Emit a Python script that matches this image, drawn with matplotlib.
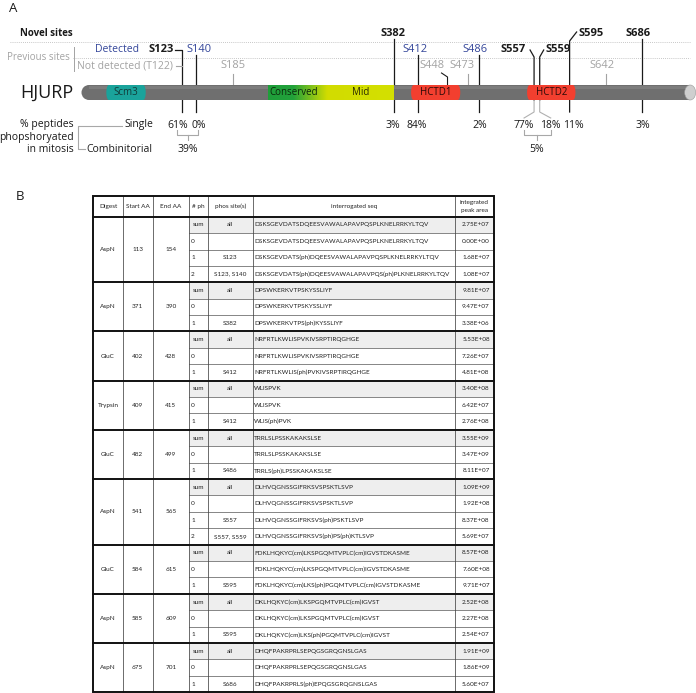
import matplotlib
matplotlib.use("Agg")
import matplotlib.pyplot as plt
import numpy as np
from matplotlib.patches import Rectangle, Ellipse
from matplotlib.colors import LinearSegmentedColormap

# ---------------- data: panel A ----------------
protein_name = "HJURP"
protein_len = 748
domain_names = ["Scm3", "HCTD1", "HCTD2"]
domain_starts = [31, 404, 546]
domain_ends = [78, 463, 604]
conserved_region = (228, 292)
mid_region = (292, 382)

novel_sites = ["S123", "S382", "S557", "S559", "S595", "S686"]
detected_prev_sites = ["S140", "S412", "S486"]
undetected_prev_sites = ["S185", "S448", "S473", "S642"]
pct_sites = ["S123", "S140", "S382", "S412", "S486", "S557", "S559", "S595", "S686"]
pct_single = [61, 0, 3, 84, 2, 77, 18, 11, 3]
combi_pairs = [("S123", "S140"), ("S557", "S559")]
combi_pct = [39, 5]

# ---------------- data: panel B (table) ----------------
header = ["Digest", "Start AA", "End AA", "# ph", "phos site(s)",
          "interrogated seq", "integrated\npeak area"]
digests = ["AspN", "AspN", "GluC", "Trypsin", "GluC", "AspN", "GluC", "AspN", "AspN"]
start_aa = [113, 371, 402, 409, 482, 541, 584, 585, 675]
end_aa = [154, 390, 428, 415, 499, 565, 615, 609, 701]
n_ph = [["sum", "0", "1", "2"], ["sum", "0", "1"], ["sum", "0", "1"], ["sum", "0", "1"],
        ["sum", "0", "1"], ["sum", "0", "1", "2"], ["sum", "0", "1"], ["sum", "0", "1"],
        ["sum", "0", "1"]]
phos_sites = [["all", "", "S123", "S123, S140"], ["all", "", "S382"], ["all", "", "S412"],
              ["all", "", "S412"], ["all", "", "S486"], ["all", "", "S557", "S557, S559"],
              ["all", "", "S595"], ["all", "", "S595"], ["all", "", "S686"]]
sequences = [
    ["DSKSGEVDATSDQEESVAWALAPAVPQSPLKNELRRKYLTQV",
     "DSKSGEVDATSDQEESVAWALAPAVPQSPLKNELRRKYLTQV",
     "DSKSGEVDATS(ph)DQEESVAWALAPAVPQSPLKNELRRKYLTQV",
     "DSKSGEVDATS(ph)DQEESVAWALAPAVPQS(ph)PLKNELRRKYLTQV"],
    ["DPSWKERKVTPSKYSSLIYF", "DPSWKERKVTPSKYSSLIYF", "DPSWKERKVTPS(ph)KYSSLIYF"],
    ["NRFRTLKWLISPVKIVSRPTIRQGHGE", "NRFRTLKWLISPVKIVSRPTIRQGHGE",
     "NRFRTLKWLIS(ph)PVKIVSRPTIRQGHGE"],
    ["WLISPVK", "WLISPVK", "WLIS(ph)PVK"],
    ["TRRLSLPSSKAKAKSLSE", "TRRLSLPSSKAKAKSLSE", "TRRLS(ph)LPSSKAKAKSLSE"],
    ["DLHVQGNSSGIFRKSVSPSKTLSVP", "DLHVQGNSSGIFRKSVSPSKTLSVP",
     "DLHVQGNSSGIFRKSVS(ph)PSKTLSVP", "DLHVQGNSSGIFRKSVS(ph)PS(ph)KTLSVP"],
    ["FDKLHQKYC(cm)LKSPGQMTVPLC(cm)IGVSTDKASME", "FDKLHQKYC(cm)LKSPGQMTVPLC(cm)IGVSTDKASME",
     "FDKLHQKYC(cm)LKS(ph)PGQMTVPLC(cm)IGVSTDKASME"],
    ["DKLHQKYC(cm)LKSPGQMTVPLC(cm)IGVST", "DKLHQKYC(cm)LKSPGQMTVPLC(cm)IGVST",
     "DKLHQKYC(cm)LKS(ph)PGQMTVPLC(cm)IGVST"],
    ["DHQFPAKRPRLSEPQGSGRQGNSLGAS", "DHQFPAKRPRLSEPQGSGRQGNSLGAS",
     "DHQFPAKRPRLS(ph)EPQGSGRQGNSLGAS"],
]
peak_areas = [[2.75e7, 0.00e0, 1.68e7, 1.08e7], [9.81e7, 9.47e7, 3.38e6],
              [5.53e8, 7.26e7, 4.81e8], [3.40e8, 6.42e7, 2.76e8],
              [3.55e9, 3.47e9, 8.11e7], [1.09e9, 1.92e8, 8.37e8, 5.69e7],
              [8.57e8, 7.60e8, 9.71e7], [2.52e8, 2.27e8, 2.54e7],
              [1.91e9, 1.86e9, 5.60e7]]

# ---------------- styling ----------------
W, H = 696, 693
FA = "Open Sans"
FT = "Lato"
BLUE = "#34469a"
GRAY = "#a3a3a3"
DARK = "#1a1a1a"
BAR = "#6f6f6f"
PX0, PXA = 81.5, 0.817          # aa -> pixel scale used for panel A

fig = plt.figure(figsize=(W / 100, H / 100), dpi=100)
axp = fig.add_axes([0, 0, 1, 1])
axp.set_xlim(0, W); axp.set_ylim(H, 0); axp.axis("off")
axA = fig.add_axes([0, 0, 1, 1])
axA.set_xlim(-PX0 / PXA, (W - PX0) / PXA); axA.set_ylim(H, 0); axA.axis("off")
axA.patch.set_visible(False)

def aa(name):
    return int(name[1:])

def dpx(px):  # pixel offset -> aa units
    return px / PXA

# ---------------- panel A ----------------
axp.text(13, 9, "A", fontsize=9.5, family=FA, ha="center", va="center", color=DARK)
axp.text(20, 33, "Novel sites", fontsize=7, family=FA, weight="bold", ha="left", va="center", color=DARK)
axp.plot([10, 690], [41.5, 41.5], color="#b5b5b5", lw=0.6, ls=(0, (1, 1.5)))
axp.plot([73, 690], [58, 58], color="#b5b5b5", lw=0.6, ls=(0, (1, 1.5)))
axp.text(70, 57, "Previous sites", fontsize=7, family=FA, ha="right", va="center", color=GRAY)
axp.plot([73.5, 73.5], [47, 71], color=GRAY, lw=0.7)
axp.text(95, 49, "Detected", fontsize=7.5, family=FA, ha="left", va="center", color=BLUE)
axp.text(77, 66, "Not detected (T122)", fontsize=7.5, family=FA, ha="left", va="center", color=GRAY)

ybar0, ybar1 = 85, 100
ymid = (ybar0 + ybar1) / 2
r = dpx(7.5)
axA.add_patch(Rectangle((r, ybar0), protein_len - 3 - r, ybar1 - ybar0, color=BAR, lw=0, zorder=2))
axA.add_patch(Ellipse((r, ymid), 2 * r, ybar1 - ybar0, color=BAR, lw=0, zorder=2))
axA.add_patch(Rectangle((r, ybar0 + 1), protein_len - 3 - r, 3, color="#7d7d7d", lw=0, zorder=2))
axA.add_patch(Ellipse((protein_len - 3, ymid), dpx(11), ybar1 - ybar0, facecolor="#cfcfcf",
                      edgecolor="#9a9a9a", lw=0.4, zorder=3))

dom_colors = ["#1aa39b", "#f23f2f", "#f23f2f"]
dom_text = ["#123c3a", "#2a0a08", "#2a0a08"]
for name, s, e, c, tc in zip(domain_names, domain_starts, domain_ends, dom_colors, dom_text):
    axA.add_patch(Rectangle((s + dpx(2), ybar0), e - s - dpx(4), ybar1 - ybar0, color=c, lw=0, zorder=4))
    axA.add_patch(Ellipse((s + dpx(2), ymid), dpx(5), ybar1 - ybar0, color=c, lw=0, zorder=4))
    axA.add_patch(Ellipse((e - dpx(2), ymid), dpx(5), ybar1 - ybar0, color=c, lw=0, zorder=4))
    axA.text((s + e) / 2, ymid, name, fontsize=7, family=FA, ha="center", va="center", color=tc, zorder=6)

cmap = LinearSegmentedColormap.from_list(
    "cm", [(0, "#1f9e3a"), (0.2, "#22a23a"), (0.47, "#d2dc00"), (1, "#d4e000")])
axA.imshow(np.linspace(0, 1, 256)[None, :], cmap=cmap, aspect="auto",
           extent=(conserved_region[0], mid_region[1], ybar1, ybar0), zorder=4)
axA.text(sum(conserved_region) / 2, ymid, "Conserved", fontsize=7, family=FA, ha="center",
         va="center", color="#0b2a0b", zorder=6)
axA.text(sum(mid_region) / 2 + dpx(4), ymid, "Mid", fontsize=7, family=FA, ha="center",
         va="center", color="#2a2a00", zorder=6)
axA.set_xlim(-PX0 / PXA, (W - PX0) / PXA); axA.set_ylim(H, 0)

axp.text(73, ymid, protein_name, fontsize=13, family=FA, ha="right", va="center", color=DARK)

# site label layout: (label y, ha, label dx px, line spread px)
layout = {
    "S123": (49, "right", -8, 0), "S140": (49, "center", 3, 0),
    "S382": (33, "center", -1, 0), "S412": (49, "center", -3, 0),
    "S486": (49, "center", -4, 0), "S557": (50, "right", -8, -2.5),
    "S559": (50, "left", 6, 1.5), "S595": (33, "left", 9, 2),
    "S686": (33, "center", -3.5, 0),
    "S185": (66, "center", 0, 0), "S448": (66, "center", -15, 0),
    "S473": (66, "center", -5.5, 0), "S642": (66, "center", -3.5, 0),
}
site_line_x = {}
for group, color, weight in [(novel_sites, DARK, "bold"), (detected_prev_sites, BLUE, "normal"),
                             (undetected_prev_sites, GRAY, "normal")]:
    for s in group:
        ly, ha, ldx, spread = layout[s]
        x = aa(s) + dpx(spread)
        site_line_x[s] = x
        axA.text(x + dpx(ldx), ly, s, fontsize=8, family=FA, weight=weight, ha=ha,
                 va="center", color=color, zorder=6)
        if group is undetected_prev_sites:
            if s == "S448":
                axA.plot([x + dpx(-6), x, x], [73, 77, ybar0], color=DARK, lw=0.8, zorder=1)
            else:
                axA.plot([x, x], [74, ybar0], color=GRAY, lw=0.8, zorder=1)
            continue
        if ha == "right" and s == "S123":
            pts_x, pts_y = [x + dpx(-7), x, x], [49.5, 49.5, 112]
        elif s == "S557":
            pts_x, pts_y = [x + dpx(-4), x, x], [50, 57, 100]
        elif s == "S559":
            pts_x, pts_y = [x + dpx(4), x, x], [50, 57, 100]
        elif s == "S595":
            pts_x, pts_y = [x + dpx(7), x, x], [32, 41, 112]
        else:
            pts_x, pts_y = [x, x], [ly + 6, 112]
        axA.plot(pts_x, pts_y, color=DARK, lw=0.9, zorder=1)

# T122 hook to S123 line
axA.plot([aa("S123") + dpx(-6), aa("S123")], [66, 66], color=GRAY, lw=0.8, zorder=1)

# below-bar lines for S557/S559 (splayed, grey)
splay = {"S557": -10, "S559": 11}
for s, d in splay.items():
    x = site_line_x[s]
    axA.plot([x, x, x + dpx(d)], [100, 112, 118], color="#b0b0b0", lw=0.8, zorder=1)

# single percentages
pct_dx = {"S123": -4.5, "S140": 2.5, "S382": -1, "S412": -1.5, "S486": 1.5,
          "S557": -10, "S559": 11, "S595": 4, "S686": 1}
pct_x = {}
for s, p in zip(pct_sites, pct_single):
    x = site_line_x[s] + dpx(pct_dx[s])
    pct_x[s] = x
    axA.text(x, 125, f"{p}%", fontsize=7.5, family=FA, ha="center", va="center", color=DARK)

# combinatorial brackets
for (a, b), p in zip(combi_pairs, combi_pct):
    xa, xb = pct_x[a], pct_x[b]
    xc = (site_line_x[a] + site_line_x[b]) / 2 if a == "S557" else (xa + xb) / 2
    axA.plot([xa, xa, xb, xb], [130, 135, 135, 130], color="#a8a8a8", lw=0.8)
    axA.plot([xc, xc], [135, 140], color="#a8a8a8", lw=0.8)
    axA.text(xc, 150, f"{p}%", fontsize=7.5, family=FA, ha="center", va="center", color=DARK)

# left labels
for yy, t in zip([125, 137.5, 150], ["% peptides", "phopshoryated", "in mitosis"]):
    axp.text(74, yy, t, fontsize=7.5, family=FA, ha="right", va="center", color=DARK)
axp.plot([122, 78, 78, 85], [126, 126, 149, 149], color="#a8a8a8", lw=0.8)
axp.text(124, 125, "Single", fontsize=7.5, family=FA, ha="left", va="center", color=DARK)
axp.text(86, 150, "Combinitorial", fontsize=7.5, family=FA, ha="left", va="center", color=DARK)

# ---------------- panel B: table ----------------
axp.text(20, 197, "B", fontsize=9.5, family=FA, ha="center", va="center", color=DARK)
cols = [93.3, 122.7, 152.7, 189, 207.7, 253, 454.7, 494.3]
top, hdr_bot, row_h = 196, 216.7, 16.4
TS = 4.6
tc = "#222222"

# header
for i, h in enumerate(header):
    cx = (cols[i] + cols[i + 1]) / 2
    axp.text(cx, (top + hdr_bot) / 2 + 0.3, h, fontsize=TS, family=FT, ha="center", va="center",
             color=tc, linespacing=1.6)

y = hdr_bot
group_lines = [hdr_bot]
for g in range(len(digests)):
    nrows = len(n_ph[g])
    y0 = y
    for k in range(nrows):
        ry0, ry1 = y, y + row_h
        yc = (ry0 + ry1) / 2
        if n_ph[g][k] == "sum":
            axp.add_patch(Rectangle((cols[3], ry0), cols[7] - cols[3], row_h, color="#eeeeee", lw=0, zorder=1))
            axp.text((cols[3] + cols[4]) / 2, yc, n_ph[g][k], fontsize=TS, family=FT, ha="center", va="center", color=tc, zorder=3)
        else:
            axp.text(cols[3] + 2, yc, n_ph[g][k], fontsize=TS, family=FT, ha="left", va="center", color=tc, zorder=3)
        axp.text((cols[4] + cols[5]) / 2, yc, phos_sites[g][k], fontsize=TS, family=FT,
                 ha="center", va="center", color=tc, zorder=3)
        axp.text(cols[5] + 1.2, yc, sequences[g][k], fontsize=TS, family=FT,
                 ha="left", va="center", color=tc, zorder=3)
        axp.text((cols[6] + cols[7]) / 2 + 1.5, yc, f"{peak_areas[g][k]:.2E}", fontsize=TS,
                 family=FT, ha="center", va="center", color=tc, zorder=3)
        if k > 0:
            axp.plot([cols[3], cols[7]], [ry0, ry0], color="#555555", lw=0.5, zorder=2)
        y = ry1
    yc = (y0 + y) / 2
    axp.text((cols[0] + cols[1]) / 2, yc, digests[g], fontsize=TS, family=FT, ha="center", va="center", color=tc)
    axp.text((cols[1] + cols[2]) / 2, yc, str(start_aa[g]), fontsize=TS, family=FT, ha="center", va="center", color=tc)
    axp.text((cols[2] + cols[3]) / 2, yc, str(end_aa[g]), fontsize=TS, family=FT, ha="center", va="center", color=tc)
    group_lines.append(y)

bottom = y
for xv in cols[1:-1]:
    axp.plot([xv, xv], [top, bottom], color="#444444", lw=0.55, zorder=2)
for gy in group_lines[:-1]:
    axp.plot([cols[0], cols[7]], [gy, gy], color="#111111", lw=1.4, zorder=4)
axp.add_patch(Rectangle((cols[0], top), cols[7] - cols[0], bottom - top, fill=False,
                        edgecolor="#111111", lw=1.4, zorder=5))

fig.savefig("out.png", dpi=100)
